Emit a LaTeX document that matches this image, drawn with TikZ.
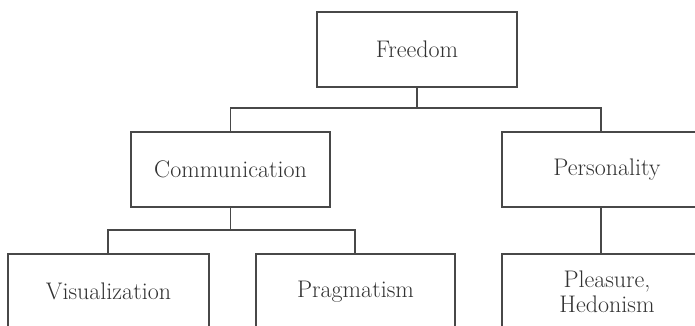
\documentclass[tikz,border=0pt]{standalone}
\usepackage{tikz}
\definecolor{ln}{RGB}{72,72,72}
\definecolor{tx}{RGB}{50,50,50}
\begin{document}
\begin{tikzpicture}[x=1pt,y=-1pt,
  box/.style={draw=ln, line width=1.4pt, rectangle, inner sep=0pt, text=tx,
    font=\fontsize{24}{25}\selectfont, align=center, minimum height=75pt},
  con/.style={draw=ln, line width=1.4pt}]
\useasboundingbox (0,0) rectangle (695,326);
\clip (0,0) rectangle (695,326);
\node[box, minimum width=200pt] (freedom) at (417,49.5) {Freedom};
\node[box, minimum width=199pt] (comm) at (230.5,169.5) {Communication};
\node[box, minimum width=210pt] (pers) at (607,169.5) {Personality};
\node[box, minimum width=201pt] (vis) at (108.5,291.5) {Visualization};
\node[box, minimum width=199pt] (prag) at (355.5,291.5) {Pragmatism};
\node[box, minimum width=210pt] (pleas) at (607,291.5) {Pleasure,\\Hedonism};
\coordinate (pt) at (601,132);
\coordinate (pb) at (601,207);
\coordinate (pl) at (601,254);
\coordinate (jtop) at (417,108);
\coordinate (jmid) at (230.5,230);
\coordinate (vt) at (108,254);
\coordinate (prt) at (355,254);
\draw[con] (freedom.south) -- (jtop);
\draw[con] (comm.north) |- (jtop) -| (pt);
\draw[con] (comm.south) -- (jmid);
\draw[con] (vt) |- (jmid) -| (prt);
\draw[con] (pb) -- (pl);
\end{tikzpicture}
\end{document}
